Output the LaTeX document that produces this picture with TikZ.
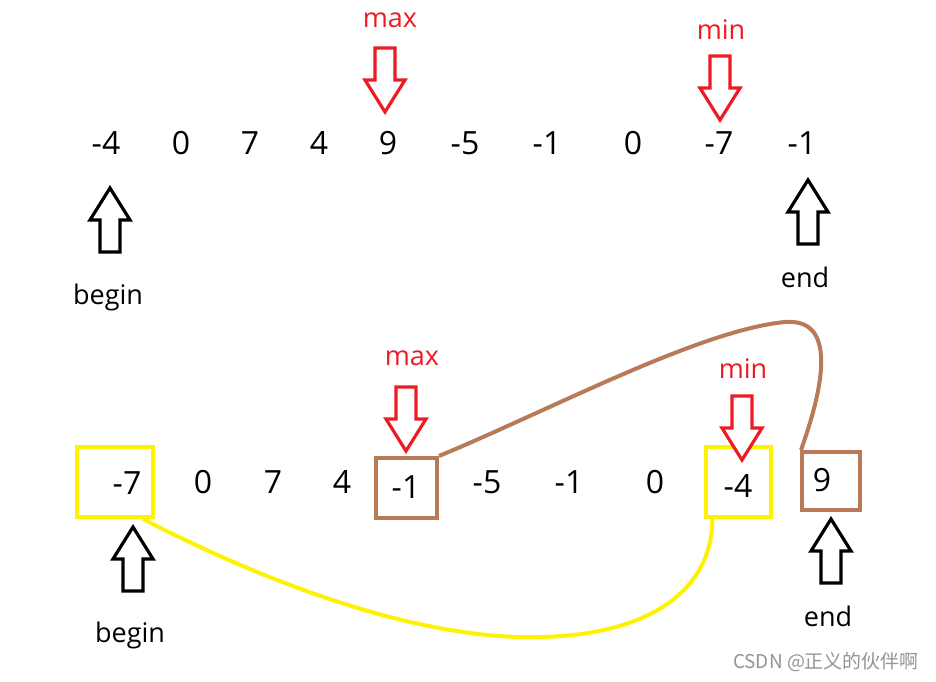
\documentclass[tikz,border=0pt]{standalone}
\usepackage{fontspec}
\setmainfont{Open Sans}
\newfontfamily\cjk{Noto Sans CJK SC}
\definecolor{pred}{HTML}{ED1C24}
\definecolor{pyel}{HTML}{FFF200}
\definecolor{pbrown}{HTML}{B97A57}
\begin{document}
\begin{tikzpicture}[x=1pt,y=-1pt,
  num/.style={font=\fontsize{32}{32}\selectfont, inner sep=0pt, anchor=center},
  lbl/.style={font=\fontsize{27}{27}\selectfont, inner sep=0pt},
  rlbl/.style={lbl, text=pred},
  arrowshape/.pic={\draw[line width=3.2pt, miter limit=10, fill=white, pic actions]
     (-10,-32) -- (10,-32) -- (10,0) -- (20,0) -- (0,32) -- (-20,0) -- (-10,0) -- cycle;},
]
\useasboundingbox (0,0) rectangle (936,681);
\fill[white] (0,0) rectangle (936,681);

% top row
\node[num] (t1) at (106,143) {-4};
\node[num] (t2) at (181,143) {0};
\node[num] (t3) at (250,143) {7};
\node[num] (t4) at (319,143) {4};
\node[num] (t5) at (388,143) {9};
\node[num] (t6) at (465,143) {-5};
\node[num] (t7) at (547,143) {-1};
\node[num] (t8) at (633,143) {0};
\node[num] (t9) at (719,143) {-7};
\node[num] (t10) at (802,143) {-1};

\node[rlbl] (tmax) at (390,20) {max};
\node[rlbl] (tmin) at (721,30) {min};
\node[lbl] (tbegin) at (108,297) {begin};
\node[lbl] (tend) at (805,277) {end};

\pic[draw=pred] at (385,80) {arrowshape};
\pic[draw=pred] at (720,88) {arrowshape};
\pic[draw=black, rotate=180] at (110,220) {arrowshape};
\pic[draw=black, rotate=180] at (808,212) {arrowshape};

% bottom row boxes
\node[draw=pyel, line width=4pt, minimum width=76pt, minimum height=70pt] (b1) at (115,482) {};
\node[draw=pbrown, line width=4pt, minimum width=61pt, minimum height=60pt] (b2) at (406.5,488) {};
\node[draw=pyel, line width=4pt, minimum width=65pt, minimum height=70pt] (b3) at (738.5,482) {};
\node[draw=pbrown, line width=4pt, minimum width=58pt, minimum height=58pt] (b4) at (831,481) {};

% bottom row numbers
\node[num] (n1) at (127,483) {-7};
\node[num] (n2) at (203,482) {0};
\node[num] (n3) at (273,482) {7};
\node[num] (n4) at (342,482) {4};
\node[num] (n5) at (406,487) {-1};
\node[num] (n6) at (487,482) {-5};
\node[num] (n7) at (569,482) {-1};
\node[num] (n8) at (655,482) {0};
\node[num] (n9) at (738,486) {-4};
\node[num] (n10) at (822,480) {9};

\node[rlbl] (bmax) at (412,358) {max};
\node[rlbl] (bmin) at (743,369) {min};
\node[lbl] (bbegin) at (130,635) {begin};
\node[lbl] (bend) at (828,616) {end};

\pic[draw=pred] at (406,419) {arrowshape};
\pic[draw=pred] at (742,428) {arrowshape};
\pic[draw=black, rotate=180] at (133,559) {arrowshape};
\pic[draw=black, rotate=180] at (831,551) {arrowshape};

% connectors
\draw[pbrown, line width=4pt] (b2.north east) .. controls (550,410) and (700,330) .. (785,322)
   .. controls (835,318) and (826,380) .. ([xshift=1pt]b4.north west);
\draw[pyel, line width=4pt] ([xshift=28pt]b1.south) .. controls (300,600) and (440,640) .. (540,637)
   .. controls (650,635) and (712,590) .. ([xshift=-26pt]b3.south);

\node[font=\cjk\fontsize{19}{19}\selectfont, text=black!42, inner sep=0pt] (wm) at (826,662) {CSDN @正义的伙伴啊};
\end{tikzpicture}
\end{document}
